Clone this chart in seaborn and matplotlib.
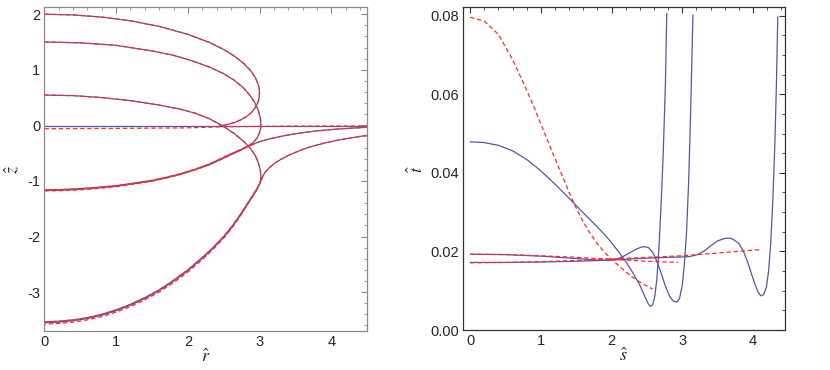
import matplotlib
matplotlib.use("Agg")
import matplotlib.pyplot as plt
from matplotlib.ticker import MultipleLocator, FormatStrFormatter
import seaborn as sns

sns.set_style("white")
plt.rcParams["font.family"] = ["Liberation Sans", "DejaVu Sans"]
plt.rcParams["mathtext.fontset"] = "stix"
plt.rcParams["axes.unicode_minus"] = False

BLUE = "#5555a8"
RED = "#ff2a2a"

# ---- left panel: profiles z(r) ----
# bubble starting at z=2, nose at r=3, returning onto the flat interface
r_top = [0, 0.4, 0.8, 1.2, 1.6, 2.0, 2.3, 2.5, 2.65, 2.78, 2.88, 2.94, 2.98, 2.995, 3.0,
         2.995, 2.98, 2.955, 2.92, 2.87, 2.81, 2.74, 2.66, 2.58, 2.50, 2.44]
z_top = [2.0, 1.987, 1.948, 1.881, 1.781, 1.638, 1.492, 1.365, 1.246, 1.114, 0.978, 0.863, 0.744, 0.66, 0.58,
         0.50, 0.42, 0.35, 0.28, 0.21, 0.15, 0.10, 0.055, 0.025, 0.0, -0.01]

# bubble starting at z=1.5, running onto the z=-1.17 interface
r_mid = [0, 0.5, 1.0, 1.5, 1.8, 2.04, 2.3, 2.5, 2.65, 2.77, 2.86, 2.93, 2.98, 3.01, 3.02,
         3.015, 3.0, 2.97, 2.92, 2.85, 2.73, 2.6, 2.46, 2.3, 2.1, 1.9, 1.7, 1.5, 1.25,
         1.0, 0.75, 0.5, 0.25, 0]
z_mid = [1.5, 1.485, 1.44, 1.34, 1.26, 1.17, 1.05, 0.93, 0.81, 0.68, 0.55, 0.42, 0.28, 0.14, 0.02,
         -0.06, -0.13, -0.22, -0.30, -0.365, -0.44, -0.515, -0.6, -0.697, -0.79, -0.87, -0.935, -0.99, -1.04,
         -1.085, -1.115, -1.14, -1.155, -1.16]

# bubble starting at z=0.55, running onto the lower interface
r_low = [0, 0.4, 0.8, 1.2, 1.6, 1.9, 2.1, 2.3, 2.5, 2.65, 2.78, 2.87, 2.94, 2.98, 3.01, 3.02,
         3.015, 3.0, 2.96, 2.9, 2.82, 2.74, 2.62, 2.5, 2.35, 2.2, 2.0, 1.8, 1.6, 1.4,
         1.2, 1.0, 0.8, 0.6, 0.4, 0.2, 0]
z_low = [0.545, 0.535, 0.50, 0.445, 0.365, 0.29, 0.22, 0.12, -0.02, -0.15, -0.29, -0.41, -0.54, -0.66, -0.80, -0.92,
         -0.99, -1.06, -1.15, -1.27, -1.43, -1.59, -1.81, -2.0, -2.2, -2.38, -2.6, -2.79, -2.96, -3.10,
         -3.22, -3.32, -3.40, -3.46, -3.50, -3.525, -3.535]

# outer interfaces reaching the far field
r_flat = [0, 1.0, 2.0, 2.5, 3.5, 4.5]
z_flat = [-0.01, -0.01, -0.01, -0.01, -0.01, -0.01]
z_flat_red = [-0.06, -0.055, -0.045, -0.025, -0.012, -0.01]

r_out2 = [0, 0.25, 0.5, 0.75, 1.0, 1.25, 1.5, 1.7, 1.9, 2.1, 2.3, 2.46, 2.6, 2.73, 2.85,
          3.0, 3.15, 3.35, 3.58, 3.8, 4.1, 4.5]
z_out2 = [-1.17, -1.165, -1.15, -1.125, -1.095, -1.05, -1.0, -0.945, -0.88, -0.80, -0.708, -0.615, -0.528, -0.45, -0.373,
          -0.293, -0.24, -0.185, -0.135, -0.10, -0.065, -0.035]
z_out2_red = [-1.18, -1.175, -1.16, -1.135, -1.103, -1.056, -1.005, -0.948, -0.882, -0.80, -0.708, -0.615, -0.528, -0.45, -0.373,
              -0.293, -0.24, -0.185, -0.135, -0.10, -0.065, -0.035]

r_out3 = [4.5, 4.3, 4.1, 3.9, 3.7, 3.55, 3.42, 3.3, 3.2, 3.13, 3.07, 3.04, 3.02,
          2.96, 2.9, 2.82, 2.74, 2.62, 2.5, 2.35, 2.2, 2.0, 1.8, 1.6, 1.4,
          1.2, 1.0, 0.8, 0.6, 0.4, 0.2, 0]
z_out3 = [-0.18, -0.22, -0.265, -0.32, -0.39, -0.46, -0.53, -0.61, -0.69, -0.77, -0.86, -0.93, -1.0,
          -1.16, -1.285, -1.445, -1.605, -1.825, -2.015, -2.215, -2.395, -2.615, -2.805, -2.975, -3.115,
          -3.235, -3.335, -3.415, -3.475, -3.515, -3.54, -3.55]
z_out3_red = [-0.18, -0.22, -0.265, -0.32, -0.39, -0.46, -0.53, -0.61, -0.69, -0.77, -0.86, -0.93, -1.0,
              -1.165, -1.29, -1.45, -1.615, -1.84, -2.03, -2.235, -2.42, -2.64, -2.83, -3.0, -3.14,
              -3.26, -3.36, -3.44, -3.5, -3.54, -3.565, -3.575]

# ---- right panel: t(s) ----
s_b1 = [0, 0.2, 0.4, 0.6, 0.8, 1.0, 1.2, 1.4, 1.6, 1.8, 1.9, 2.0, 2.1, 2.2, 2.3, 2.4, 2.47,
        2.52, 2.55, 2.58, 2.61, 2.64, 2.67, 2.70, 2.73, 2.76, 2.78]
t_b1 = [0.0479, 0.0477, 0.0470, 0.0456, 0.0434, 0.0405, 0.0371, 0.0335, 0.0298, 0.0262, 0.0243, 0.0222, 0.0199, 0.0174, 0.0146, 0.0114, 0.0085,
        0.0066, 0.0060, 0.0064, 0.0085, 0.0130, 0.0210, 0.0320, 0.0450, 0.0620, 0.0806]
s_r1 = [0, 0.2, 0.4, 0.6, 0.8, 0.9, 1.0, 1.1, 1.2, 1.3, 1.4, 1.5, 1.6, 1.7, 1.8, 1.9,
        2.0, 2.1, 2.2, 2.3, 2.4, 2.5, 2.58]
t_r1 = [0.0796, 0.0786, 0.0752, 0.0688, 0.0610, 0.0568, 0.0524, 0.0480, 0.0436, 0.0393, 0.0350, 0.0310, 0.0275, 0.0245, 0.0219, 0.0198,
        0.0180, 0.0164, 0.0148, 0.0134, 0.0122, 0.0112, 0.0104]

s_b2 = [0, 0.5, 1.0, 1.5, 1.8, 1.95, 2.05, 2.15, 2.25, 2.35, 2.42, 2.47, 2.52, 2.58, 2.64, 2.70,
        2.76, 2.82, 2.87, 2.92, 2.96, 3.0, 3.03, 3.06, 3.09, 3.12, 3.15]
t_b2 = [0.0193, 0.0192, 0.0188, 0.0182, 0.0178, 0.0177, 0.0179, 0.0186, 0.0196, 0.0206, 0.0211, 0.0212, 0.0210, 0.0198, 0.0175, 0.0145,
        0.0112, 0.0086, 0.0074, 0.0071, 0.0080, 0.0115, 0.0170, 0.0250, 0.0380, 0.0570, 0.0802]
s_r2 = [0, 0.5, 1.0, 1.5, 2.0, 2.5, 2.94]
t_r2 = [0.0193, 0.0192, 0.0189, 0.0185, 0.0180, 0.0175, 0.0172]

s_b3 = [0, 0.5, 1.0, 1.5, 2.0, 2.5, 2.8, 3.0, 3.1, 3.2, 3.3, 3.4, 3.5, 3.6, 3.66, 3.72,
        3.8, 3.86, 3.92, 3.98, 4.03, 4.07, 4.11, 4.15, 4.19, 4.22, 4.25, 4.28, 4.31, 4.33, 4.35]
t_b3 = [0.0172, 0.0172, 0.0173, 0.0175, 0.0178, 0.0183, 0.0185, 0.0186, 0.0187, 0.0191, 0.0200, 0.0214, 0.0227, 0.0233, 0.0234, 0.0231,
        0.0220, 0.0202, 0.0175, 0.0142, 0.0115, 0.0097, 0.0087, 0.0090, 0.0110, 0.0150, 0.0220, 0.0330, 0.0480, 0.0620, 0.0797]
s_r3 = [0, 0.5, 1.0, 1.5, 2.0, 2.5, 3.0, 3.5, 4.12]
t_r3 = [0.0171, 0.0172, 0.0174, 0.0177, 0.0181, 0.0185, 0.0189, 0.0196, 0.0205]

fig = plt.figure(figsize=(8.3, 3.7), dpi=100)
ax1 = fig.add_axes([0.0536, 0.1054, 0.3886, 0.875])
ax2 = fig.add_axes([0.558, 0.108, 0.3876, 0.872])

dash = (0, (3.5, 2.2))


def draw(ax, x, y, color, ls="-"):
    sns.lineplot(x=x, y=y, ax=ax, sort=False, estimator=None, color=color,
                 lw=0.9, linestyle=ls)


# left panel
for x, y in [(r_top, z_top), (r_mid, z_mid), (r_low, z_low),
             (r_flat, z_flat), (r_out2, z_out2), (r_out3, z_out3)]:
    draw(ax1, x, y, BLUE)
for x, y in [(r_top, z_top), (r_mid, z_mid), (r_low, z_low),
             (r_flat, z_flat_red), (r_out2, z_out2_red), (r_out3, z_out3_red)]:
    draw(ax1, x, y, RED, dash)

ax1.set_xlim(0, 4.5)
ax1.set_ylim(-3.70, 2.125)
ax1.xaxis.set_major_locator(MultipleLocator(1))
ax1.xaxis.set_minor_locator(MultipleLocator(0.2))
ax1.yaxis.set_major_locator(MultipleLocator(1))
ax1.yaxis.set_minor_locator(MultipleLocator(0.2))
ax1.set_xlabel(r"$\hat{r}$", fontsize=13, labelpad=0)
ax1.set_ylabel(r"$\hat{z}$", fontsize=13, labelpad=4)

# right panel
for x, y in [(s_b1, t_b1), (s_b2, t_b2), (s_b3, t_b3)]:
    draw(ax2, x, y, BLUE)
for x, y in [(s_r1, t_r1), (s_r2, t_r2), (s_r3, t_r3)]:
    draw(ax2, x, y, RED, dash)

ax2.set_xlim(-0.1, 4.45)
ax2.set_ylim(0, 0.0821)
ax2.xaxis.set_major_locator(MultipleLocator(1))
ax2.xaxis.set_minor_locator(MultipleLocator(0.2))
ax2.yaxis.set_major_locator(MultipleLocator(0.02))
ax2.yaxis.set_minor_locator(MultipleLocator(0.005))
ax2.yaxis.set_major_formatter(FormatStrFormatter("%.2f"))
ax2.set_xlabel(r"$\hat{s}$", fontsize=13, labelpad=0)
ax2.set_ylabel(r"$\hat{t}$", fontsize=13, labelpad=2)

for ax, edge in [(ax1, "#8a8a8a"), (ax2, "#333333")]:
    for sp in ax.spines.values():
        sp.set_color(edge)
        sp.set_linewidth(0.9)
    ax.tick_params(which="both", direction="in", top=True, right=True,
                   color=edge, labelsize=10.5, pad=3)
    ax.tick_params(which="major", length=4, width=0.8)
    ax.tick_params(which="minor", length=2, width=0.6)

fig.savefig("out.png", dpi=100)
